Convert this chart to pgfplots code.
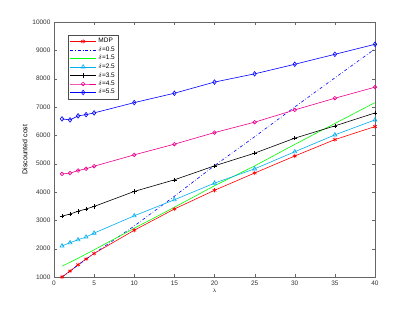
\documentclass[border=0pt]{standalone}
\usepackage{pgfplots}
\pgfplotsset{compat=1.18}
\usepackage{fontspec}
\setmainfont{Liberation Sans}
\begin{document}
\begin{tikzpicture}[x=1pt,y=1pt]
\path (0,0) rectangle (415,312);
\begin{axis}[
  at={(54pt,35pt)}, anchor=south west,
  scale only axis, width=321pt, height=255pt,
  xmin=0, xmax=40, ymin=1000, ymax=10000,
  xtick={0,5,...,40}, ytick={1000,2000,...,10000},
  tick align=inside, major tick length=3pt,
  scaled y ticks=false,
  /pgf/number format/assume math mode=true,
  /pgf/number format/set thousands separator={},
  tick label style={font=\fontsize{6.5}{7}\selectfont, color=black!80},
  axis line style={color=black!60},
  tick style={color=black!60},
  xlabel={$\lambda$}, xlabel style={font=\fontsize{5}{6}\selectfont, yshift=3pt},
  ylabel={Discounted cost}, ylabel style={font=\fontsize{7}{8}\selectfont, yshift=-2pt},
  legend style={at={(0.044,0.95)}, anchor=north west, font=\fontsize{6.5}{7}\selectfont,
    draw=black!70, row sep=-1.5pt, inner sep=1.5pt, cells={anchor=west}},
  legend cell align=left,
  legend image code/.code={\draw[mark repeat=2,mark phase=2] plot coordinates {(0pt,0pt)(13pt,0pt)(26pt,0pt)};},
  every axis plot/.append style={line width=0.6pt},
]
\addplot[red, mark=asterisk, mark size=2.2pt] coordinates {(1,1000)(2,1210)(3,1433)(4,1634)(5,1830)(10,2650)(15,3400)(20,4060)(25,4670)(30,5270)(35,5850)(40,6310)};
\addlegendentry{MDP}
\addplot[blue, dash dot] coordinates {(1,1000)(2,1200)(3,1420)(4,1630)(5,1830)(10,2800)(15,3850)(20,4930)(25,5950)(30,7000)(35,8030)(40,9050)};
\addlegendentry{$\delta$=0.5}
\addplot[green] coordinates {(1,1380)(2,1520)(3,1660)(4,1810)(5,1960)(10,2720)(15,3460)(20,4220)(25,4920)(30,5680)(35,6420)(40,7155)};
\addlegendentry{$\delta$=1.5}
\addplot[cyan, mark=triangle, mark size=2.3pt, mark options={solid, fill=white}] coordinates {(1,2100)(2,2210)(3,2315)(4,2410)(5,2550)(10,3160)(15,3725)(20,4313)(25,4817)(30,5420)(35,6016)(40,6545)};
\addlegendentry{$\delta$=2.5}
\addplot[black, mark=+, mark size=2.3pt] coordinates {(1,3150)(2,3220)(3,3320)(4,3400)(5,3490)(10,4020)(15,4430)(20,4923)(25,5370)(30,5900)(35,6333)(40,6790)};
\addlegendentry{$\delta$=3.5}
\addplot[magenta, mark=o, mark size=1.8pt, mark options={solid, fill=white}] coordinates {(1,4640)(2,4665)(3,4757)(4,4820)(5,4910)(10,5311)(15,5688)(20,6097)(25,6464)(30,6897)(35,7310)(40,7700)};
\addlegendentry{$\delta$=4.5}
\addplot[blue, mark=diamond, mark size=2.3pt, mark options={solid, fill=white}] coordinates {(1,6580)(2,6545)(3,6686)(4,6731)(5,6791)(10,7155)(15,7486)(20,7880)(25,8170)(30,8508)(35,8860)(40,9213)};
\addlegendentry{$\delta$=5.5}
\end{axis}
\end{tikzpicture}
\end{document}
